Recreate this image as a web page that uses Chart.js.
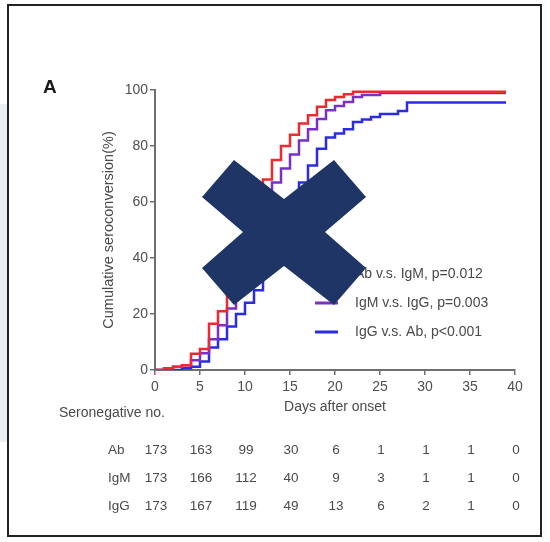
<!DOCTYPE html>
<html>
<head>
<meta charset="utf-8">
<title>Cumulative seroconversion</title>
<script src="https://cdn.jsdelivr.net/npm/chart.js@4.4.1/dist/chart.umd.min.js"></script>
<style>
  html, body { margin: 0; padding: 0; background: #fff; }
  #wrap { position: relative; width: 550px; height: 542px; overflow: hidden; }
  #side { position: absolute; left: 0; top: 104px; width: 7px; height: 338px; background: #eceef5; }
  #frame { position: absolute; left: 7px; top: 4px; width: 531px; height: 529px; border: 2px solid #222; }
  canvas { position: absolute; left: 0; top: 0; }
</style>
</head>
<body>
<div id="wrap">
  <div id="side"></div>
  <div id="frame"></div>
  <canvas id="seroChart" width="550" height="542"></canvas>
</div>
<script>
// Days after onset (each value holds from that day on)
const days = [0, 1, 2, 3, 4, 5, 6, 7, 8, 9, 10, 11, 12, 13, 14, 15, 16, 17, 18, 19,
  20, 21, 22, 23, 24, 25, 26, 27, 28, 39];

// Cumulative seroconversion (%)
const abPct = [0, 0.6, 1.2, 1.7, 5.8, 7.5, 16.5, 21, 28, 36, 46, 57, 68, 75, 80, 84, 88, 91, 94, 96.4,
  97.5, 98.5, 99.4, 99.4, 99.4, 99.4, 99.4, 99.4, 99.4, 99.4];
const igmPct = [0, 0.6, 1.2, 1.7, 3.5, 6, 11, 16, 22, 29, 37, 48, 60, 67, 72, 77, 82, 86, 89.6, 92.8,
  94.3, 95.7, 97.5, 98.2, 98.2, 98.9, 98.9, 98.9, 98.9, 98.9];
const iggPct = [0, 0, 0, 0.6, 1.2, 3, 8, 11, 15.5, 20, 24, 28.5, 37, 45, 53, 60, 67, 73, 79, 83,
  84.5, 86, 88.6, 89.5, 90.4, 91.4, 91.4, 92.5, 95.5, 95.5];

const seriesNames = ['Ab', 'IgM', 'IgG'];
const legendLabels = ['Ab v.s. IgM, p=0.012', 'IgM v.s. IgG, p=0.003', 'IgG v.s. Ab, p<0.001'];

// Seronegative numbers at risk
const tableDays = [0, 5, 10, 15, 20, 25, 30, 35, 40];
const abAtRisk = [173, 163, 99, 30, 6, 1, 1, 1, 0];
const igmAtRisk = [173, 166, 112, 40, 9, 3, 1, 1, 0];
const iggAtRisk = [173, 167, 119, 49, 13, 6, 2, 1, 0];

const FONT = '"Liberation Sans", Arial, sans-serif';
Chart.defaults.font.family = FONT;
Chart.defaults.color = '#4a4a4a';

const colors = ['#ec2a30', '#7a30c4', '#2b2be6'];
const pctSeries = [abPct, igmPct, iggPct];
const atRisk = [abAtRisk, igmAtRisk, iggAtRisk];

const extras = {
  id: 'extras',
  afterDraw(chart) {
    const ctx = chart.ctx;
    const xs = chart.scales.x;
    ctx.save();

    // panel letter
    ctx.fillStyle = '#1a1a1a';
    ctx.font = 'bold 19px ' + FONT;
    ctx.textBaseline = 'middle';
    ctx.fillText('A', 43, 88);

    // legend inside the plot
    ctx.font = '14px ' + FONT;
    ctx.fillStyle = '#4a4a4a';
    legendLabels.forEach((lab, i) => {
      const y = 274 + i * 29;
      ctx.strokeStyle = chart.data.datasets[i].borderColor;
      ctx.lineWidth = 3;
      ctx.beginPath();
      ctx.moveTo(315, y);
      ctx.lineTo(338, y);
      ctx.stroke();
      ctx.fillText(lab, 355, y);
    });

    // number-at-risk table
    ctx.fillText('Seronegative no.', 59, 413);
    ctx.font = '13.5px ' + FONT;
    atRisk.forEach((row, i) => {
      const y = 450 + i * 28;
      ctx.textAlign = 'left';
      ctx.fillText(seriesNames[i], 108, y);
      ctx.textAlign = 'center';
      row.forEach((n, j) => {
        ctx.fillText(String(n), xs.getPixelForValue(tableDays[j]) + 1, y);
      });
    });

    // big cross stamped over the figure
    const pts = [[234, 160], [284, 199], [334, 160], [366, 197], [325, 232], [366, 268],
      [334, 305], [284, 266], [234, 305], [202, 268], [243, 232], [202, 197]];
    ctx.fillStyle = '#1e3565';
    ctx.beginPath();
    pts.forEach((p, k) => k ? ctx.lineTo(p[0], p[1]) : ctx.moveTo(p[0], p[1]));
    ctx.closePath();
    ctx.fill();

    ctx.restore();
  }
};

const ctx = document.getElementById('seroChart').getContext('2d');
const seroChart = new Chart(ctx, {
  type: 'line',
  data: {
    datasets: seriesNames.map((name, i) => ({
      label: name,
      data: days.map((d, k) => ({ x: d, y: pctSeries[i][k] })),
      borderColor: colors[i],
      borderWidth: 2.5,
      stepped: true,
      pointRadius: 0,
      fill: false
    }))
  },
  options: {
    responsive: false,
    animation: false,
    layout: { padding: { left: 100, top: 90, right: 35, bottom: 122 } },
    plugins: {
      legend: { display: false },
      tooltip: { enabled: false }
    },
    scales: {
      x: {
        type: 'linear',
        min: 0,
        max: 40,
        afterFit: s => { s.height = 50; },
        ticks: { stepSize: 5, padding: 4, color: '#505050', font: { size: 14 } },
        grid: { drawOnChartArea: false, color: '#707070', lineWidth: 1.5, tickLength: 5 },
        border: { color: '#707070', width: 2 },
        title: { display: true, text: 'Days after onset', color: '#4a4a4a', font: { size: 14 } }
      },
      y: {
        min: 0,
        max: 100,
        afterFit: s => { s.width = 55; },
        ticks: { stepSize: 20, padding: 2, color: '#505050', font: { size: 14 } },
        grid: { drawOnChartArea: false, color: '#707070', lineWidth: 1.5, tickLength: 5 },
        border: { color: '#707070', width: 2 },
        title: {
          display: true,
          text: 'Cumulative seroconversion(%)',
          color: '#4a4a4a',
          font: { size: 14.5 },
          padding: { top: 0, bottom: 0 }
        }
      }
    }
  },
  plugins: [extras]
});
</script>
</body>
</html>
